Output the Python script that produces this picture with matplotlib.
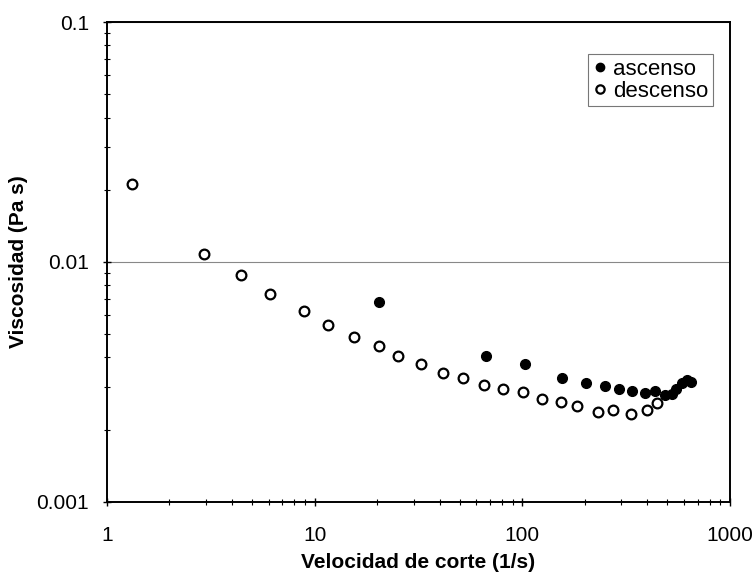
import numpy as np
import matplotlib.pyplot as plt
from matplotlib.ticker import LogLocator, FixedLocator, FixedFormatter, NullFormatter

plt.rcParams['font.family'] = ['Liberation Sans', 'DejaVu Sans']

# shear rate (1/s) and viscosity (Pa s), ramp up
x_asc = [20.4, 66.8, 103, 156, 202, 250, 292, 338, 392, 435, 486, 524, 549, 585, 618, 653]
y_asc = [0.00683, 0.00404, 0.00375, 0.00328, 0.00313, 0.00305, 0.00295, 0.0029, 0.00284,
         0.0029, 0.00279, 0.00283, 0.00297, 0.00313, 0.00322, 0.00316]

# ramp down
x_desc = [1.32, 2.93, 4.42, 6.09, 8.88, 11.63, 15.5, 20.4, 25.3, 32.7, 41.3, 51.9, 65.3,
          80.4, 101, 125, 153, 184, 232, 274, 333, 397, 446]
y_desc = [0.0212, 0.0108, 0.0088, 0.00733, 0.00625, 0.00545, 0.00487, 0.00447, 0.00404,
          0.00375, 0.00344, 0.00329, 0.00307, 0.00295, 0.00286, 0.00268, 0.00261, 0.00251,
          0.00237, 0.00242, 0.00232, 0.00242, 0.00258]

x_ticks = [1, 10, 100, 1000]
y_ticks = [0.001, 0.01, 0.1]
y_labels = ['0.001', '0.01', '0.1']

fig = plt.figure(figsize=(7.56, 5.76), dpi=100)
ax = fig.add_axes([0.1415, 0.1285, 0.824, 0.8333])

ax.plot(x_asc, y_asc, 'o', ms=7, mfc='black', mec='black', label='ascenso', zorder=3)
ax.plot(x_desc, y_desc, 'o', ms=7, mfc='white', mec='black', mew=1.6, label='descenso', zorder=3)

ax.set_xscale('log'); ax.set_yscale('log')
ax.set_xlim(1, 1000); ax.set_ylim(0.001, 0.1)

ax.xaxis.set_major_locator(FixedLocator(x_ticks))
ax.xaxis.set_major_formatter(FixedFormatter([str(t) for t in x_ticks]))
ax.xaxis.set_minor_locator(LogLocator(base=10, subs=np.arange(2, 10)))
ax.xaxis.set_minor_formatter(NullFormatter())
ax.yaxis.set_major_locator(FixedLocator(y_ticks))
ax.yaxis.set_major_formatter(FixedFormatter(y_labels))
ax.yaxis.set_minor_locator(LogLocator(base=10, subs=np.arange(2, 10)))
ax.yaxis.set_minor_formatter(NullFormatter())

ax.tick_params(which='major', direction='inout', length=6, width=1, labelsize=15)
ax.tick_params(which='minor', direction='inout', length=4, width=0.8)
ax.tick_params(axis='x', which='major', pad=14)
ax.tick_params(axis='y', which='major', pad=10)

ax.yaxis.grid(True, which='major', color='#888888', lw=0.8)
for s in ax.spines.values():
    s.set_linewidth(1.4)

ax.set_xlabel('Velocidad de corte (1/s)', fontsize=15, fontweight='bold', labelpad=6)
ax.set_ylabel('Viscosidad (Pa s)', fontsize=15, fontweight='bold', labelpad=6)

leg = ax.legend(loc='upper right', bbox_to_anchor=(0.9727, 0.933), fontsize=16, frameon=True,
                fancybox=False, handletextpad=0.25, handlelength=0.7, borderpad=0.2,
                labelspacing=0.05, borderaxespad=0)
leg.get_frame().set_edgecolor('#555555')
leg.get_frame().set_linewidth(0.8)
for h in leg.legend_handles:
    h.set_markersize(6)

fig.savefig('out.png', dpi=100)
